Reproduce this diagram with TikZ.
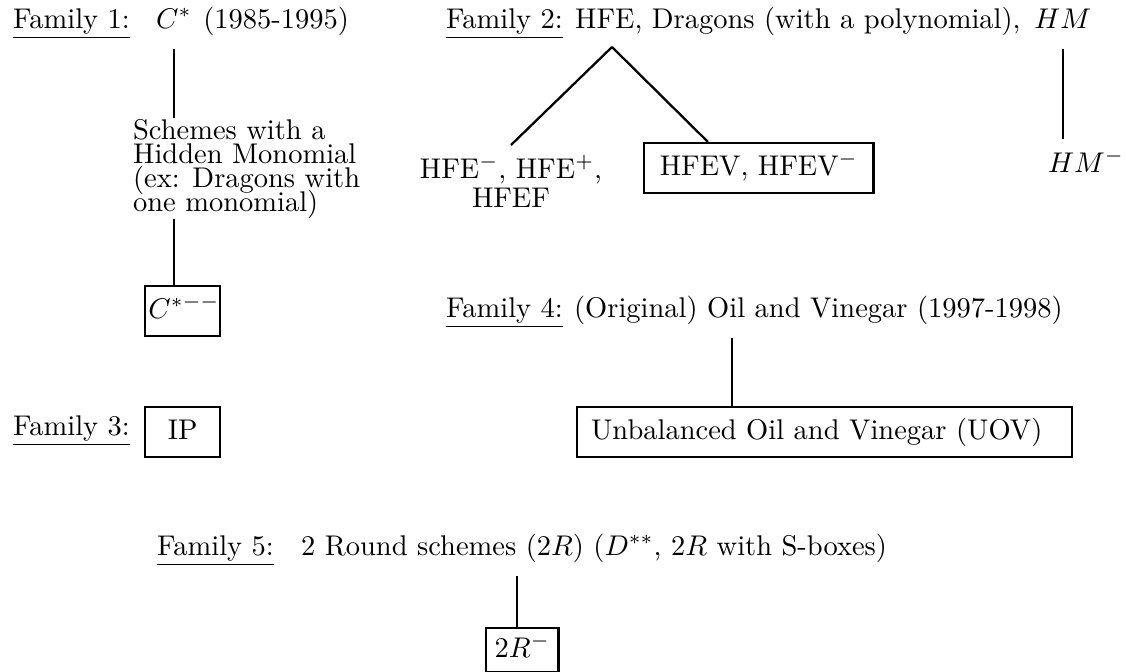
\documentclass[tikz,border=0pt]{standalone}
\usepackage{amsmath}
\usepackage{tikz}
\usetikzlibrary{positioning}

\begin{document}
\begin{tikzpicture}[x=0.351pt,y=-0.351pt,thick,
                    family label/.style={anchor=base west,inner sep=0pt},
                    family title/.style={anchor=base west,inner xsep=0pt,inner ysep=7pt,text depth=0pt},
                    scheme box/.style={draw,inner xsep=3pt,inner ysep=3.75pt,text height=7.5pt,text depth=2.5pt}]

  \useasboundingbox (0,0) rectangle (1126,672);

  % Family 1
  \node[family label] (f1) at (12,28) {\underline{Family 1:}};
  \node[family title] (cstar) at (155,28) {$C^*$};
  \node[family title] (f1years) at ([xshift=3.33pt]cstar.base east) {(1985-1995)};
  \node[anchor=north west,inner sep=0pt,align=left] (hidden) at (132,118)
       {Schemes with a\\[-3.6pt]Hidden Monomial\\[-3.6pt](ex: Dragons with\\[-3.6pt]one monomial)};
  \node[scheme box,anchor=north west,inner xsep=0pt,minimum width=26.3pt] (cminus) at (144,285) {\hspace{1pt}$C^{*--}$};

  % Family 3
  \node[family label] (f3) at (12,435) {\underline{Family 3:}};
  \node[scheme box,anchor=north west,minimum width=26.3pt] (ip) at (144,406) {IP};

  % Family 2
  \node[family label] (f2) at (445,28) {\underline{Family 2:}};
  \node[family title] (f2text) at (574,28) {HFE, Dragons (with a polynomial),};
  \node[family title] (hm) at ([xshift=4pt]f2text.base east) {$HM$};
  \coordinate (split) at (612,47);
  \node[anchor=north,align=center] (hfeminus) at (511,145) {HFE$^-$, HFE$^+$,\\[-1.8pt]HFEF};
  \node[scheme box,anchor=north west,inner xsep=5.5pt] (hfev) at (643,142) {HFEV, HFEV$^-$};
  \node[anchor=base] (hmminus) at (1086,172) {$HM^-$};

  % Family 4
  \node[family label] (f4) at (445,317) {\underline{Family 4:}};
  \node[family title] (f4text) at (573,317) {(Original) Oil and Vinegar (1997-1998)};
  \node[scheme box,anchor=north west,inner xsep=4.9pt,text width=164pt,align=left] (uov) at (576,406) {Unbalanced Oil and Vinegar (UOV)};
  \coordinate (uovtop) at (732,406);

  % Family 5
  \node[family label] (f5) at (156,555) {\underline{Family 5:}};
  \node[family title] (f5text) at (300,555) {2 Round schemes ($2R$) ($D^{**}$, $2R$ with S-boxes)};
  \node[scheme box,anchor=north west,inner ysep=2.7pt] (twor) at (485,627) {$2R^-$};

  \path (cstar.south) edge (cstar.south |- hidden.north)
        (hidden.south -| cstar.south) edge (cstar.south |- cminus.north)
        (split) edge (hfeminus.north)
                edge ([xshift=22.8pt]hfev.north west)
        (hm.south) edge (hm.south |- hmminus.north)
        (f4text.south -| uovtop) edge (uovtop)
        ([xshift=-2pt]f5text.south -| twor.north) edge ([xshift=-2pt]twor.north);
\end{tikzpicture}
\end{document}
